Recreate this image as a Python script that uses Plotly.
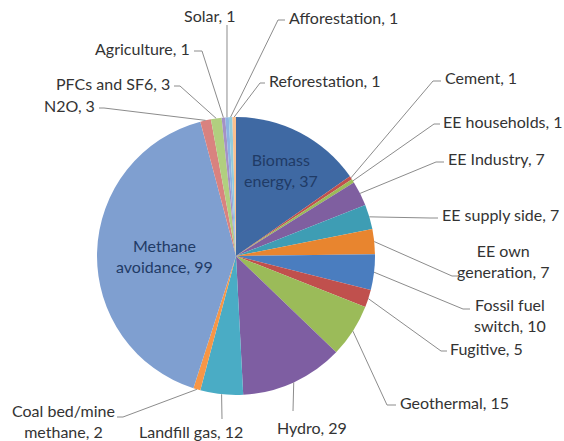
import math
import plotly.graph_objects as go

# ---- data ----
categories = ["Biomass energy", "Cement", "EE households", "EE Industry", "EE supply side",
              "EE own generation", "Fossil fuel switch", "Fugitive", "Geothermal", "Hydro",
              "Landfill gas", "Coal bed/mine methane", "Methane avoidance", "N2O",
              "PFCs and SF6", "Agriculture", "Solar", "Afforestation", "Reforestation"]
values = [37, 1, 1, 7, 7, 7, 10, 5, 15, 29, 12, 2, 99, 3, 3, 1, 1, 1, 1]
label_text = ["Biomass<br>energy", "Cement", "EE households", "EE Industry", "EE supply side",
              "EE own<br>generation", "Fossil fuel<br>switch", "Fugitive", "Geothermal", "Hydro",
              "Landfill gas", "Coal bed/mine<br>methane", "Methane<br>avoidance", "N2O",
              "PFCs and SF6", "Agriculture", "Solar", "Afforestation", "Reforestation"]

# ---- styles ----
colors = ["#3F69A3", "#C0504D", "#9BBB59", "#7F5FA0", "#3E9DB4", "#E8852F", "#4A7DBF",
          "#C0504D", "#9BBB59", "#7E5EA2", "#4AACC5", "#F79646", "#7F9FD0", "#D9827F",
          "#B1CF7F", "#A491C5", "#8DB3E2", "#92CDDC", "#FAC08F"]

W, H = 564, 441
CX, CY, R = 236, 256, 139  # pie centre / radius in px

# label layout (px): text x, text y, xanchor, elbow (x,y) or None, tail x
label_layout = [
    (281, 170, "center", None, None),
    (443, 78, "left", (433, 81), 441),
    (441, 121, "left", (434, 124), 440),
    (446, 159, "left", (436, 162), 444),
    (440, 214, "left", (430, 218), 438),
    (503, 261, "center", (452, 276), 458),
    (510, 315, "center", (463, 309), 470),
    (448, 348, "left", (441, 351), 447),
    (398, 402, "left", (387, 405), 396),
    (312, 427, "center", (293, 411), None),
    (191, 431, "center", (222, 419), None),
    (63, 421, "center", (123, 417), 117),
    (164, 256, "center", None, None),
    (97, 105, "right", (104, 108), 99),
    (172, 83, "right", (180, 86), 174),
    (192, 48, "right", (202, 51), 194),
    (210, 15, "center", (227, 25), None),
    (287, 17, "left", (278, 20), 285),
    (267, 80, "left", (260, 83), 265),
]

def px(x):
    return x / W

def py(y):
    return 1 - y / H

fig = go.Figure(go.Pie(
    labels=categories, values=values, sort=False, direction="clockwise", rotation=0,
    marker=dict(colors=colors, line=dict(width=0)),
    textinfo="none", hoverinfo="label+value", showlegend=False,
    domain=dict(x=[(CX - R) / W, (CX + R) / W], y=[(H - CY - R) / H, (H - CY + R) / H]),
))

total = sum(values)
cum = 0
shapes = []
annotations = []
for i, v in enumerate(values):
    mid = (cum + v / 2) / total * 2 * math.pi
    cum += v
    ex, ey = CX + R * math.sin(mid), CY - R * math.cos(mid)
    tx, ty, xa, elbow, tail = label_layout[i]
    inside = elbow is None
    annotations.append(dict(
        x=px(tx), y=py(ty), xref="paper", yref="paper", xanchor=xa, yanchor="middle",
        text=f"{label_text[i]}, {v}", showarrow=False, align="center",
        font=dict(family="Lato, Carlito, sans-serif", size=16,
                  color="#1F3B66" if inside else "#333333"),
    ))
    if not inside:
        path = f"M {px(ex)} {py(ey)} L {px(elbow[0])} {py(elbow[1])}"
        if tail is not None:
            path += f" L {px(tail)} {py(elbow[1])}"
        shapes.append(dict(type="path", path=path, xref="paper", yref="paper",
                           line=dict(color="#8C8C8C", width=1)))

fig.update_layout(
    width=W, height=H, margin=dict(l=0, r=0, t=0, b=0),
    paper_bgcolor="white", plot_bgcolor="white",
    shapes=shapes, annotations=annotations,
)
fig.write_html("out.html", config={"displayModeBar": False},
               post_script="document.body.style.margin='0';")
